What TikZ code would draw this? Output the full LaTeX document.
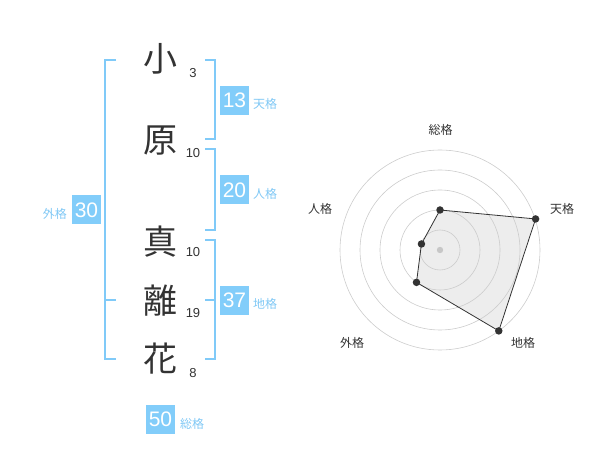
\documentclass[tikz,border=0pt]{standalone}
\usepackage{fontspec}
\setmainfont{Liberation Sans}
\newfontfamily\jpfont{Noto Sans CJK JP}
\definecolor{brk}{HTML}{80CAF8}
\definecolor{boxc}{HTML}{82CDFA}
\definecolor{lbl}{HTML}{80C8F5}
\definecolor{ink}{HTML}{333333}
\begin{document}
\begin{tikzpicture}[x=1pt,y=-1pt,
  kanji/.style={font=\jpfont\fontsize{34}{34}\selectfont, text=ink, inner sep=0pt},
  strokes/.style={font=\fontsize{13}{13}\selectfont, text=ink, inner sep=0pt},
  numbox/.style={fill=boxc, text=white, minimum width=29pt, minimum height=29pt, inner sep=0pt, font=\fontsize{21}{21}\selectfont},
  kaku/.style={font=\jpfont\fontsize{12}{12}\selectfont, text=lbl, inner sep=0pt},
  brack/.style={draw=brk, line width=2pt},
  ring/.style={draw=black!20, line width=0.6pt},
  axlbl/.style={font=\jpfont\fontsize{12}{12}\selectfont, text=ink, inner sep=0pt},
  pt/.style={circle, fill=ink, inner sep=0pt, minimum size=7.5pt}
]
\useasboundingbox (0,0) rectangle (600,470);
% kanji
\node[kanji] (k1) at (160,59) {小};
\node[kanji] (k2) at (160,141) {原};
\node[kanji] (k3) at (160,242) {真};
\node[kanji] (k4) at (160,301) {離};
\node[kanji] (k5) at (160,359) {花};
\node[strokes] (s1) at (193,73) {3};
\node[strokes] (s2) at (193,153) {10};
\node[strokes] (s3) at (193,252) {10};
\node[strokes] (s4) at (193,313) {19};
\node[strokes] (s5) at (193,373) {8};
% brackets
\coordinate (gt) at (105,60);
\coordinate (gb) at (105,359.5);
\draw[brack] (116,60) -- (gt) -- (gb) -- (116,359.5);
\draw[brack] (105,300) -- (116,300);
\draw[brack] (205,60) -- (214.5,60) -- (214.5,139.5) -- (205,139.5);
\draw[brack] (205,149.5) -- (214.5,149.5) -- (214.5,230) -- (205,230);
\draw[brack] (205,240) -- (214.5,240) -- (214.5,359.5) -- (205,359.5);
\draw[brack] (205,300) -- (214.5,300);
% boxes
\node[numbox] (b13) at (234.5,100.5) {13};
\node[numbox] (b20) at (234.5,190) {20};
\node[numbox] (b37) at (234.5,300.5) {37};
\node[numbox] (b30) at (86.5,210) {30};
\node[numbox] (b50) at (160.5,419.5) {50};
\node[kaku, anchor=west] (l13) at (253,104) {天格};
\node[kaku, anchor=west] (l20) at (253,194) {人格};
\node[kaku, anchor=west] (l37) at (253,304) {地格};
\node[kaku, anchor=east] (l30) at (67,213.5) {外格};
\node[kaku, anchor=west] (l50) at (180,423.5) {総格};
% radar
\coordinate (c) at (440,250);
\path (c) ++(-90:40) coordinate (p1)
      (c) ++(-18:100.5) coordinate (p2)
      (c) ++(54:100) coordinate (p3)
      (c) ++(126:40) coordinate (p4)
      (c) ++(-162:19.5) coordinate (p5);
\fill[black!7] (p1) -- (p2) -- (p3) -- (p4) -- (p5) -- cycle;
\foreach \r in {20,40,60,80,100} \draw[ring] (c) circle (\r);
\fill[black!22] (c) circle (3.2);
\draw[draw=ink, line width=0.8pt] (p1) -- (p2) -- (p3) -- (p4) -- (p5) -- cycle;
\foreach \p in {p1,p2,p3,p4,p5} \node[pt] at (\p) {};
\node[axlbl] (a1) at (440.5,129.5) {総格};
\node[axlbl] (a2) at (562,208.5) {天格};
\node[axlbl] (a3) at (523,342.5) {地格};
\node[axlbl] (a4) at (352,342.5) {外格};
\node[axlbl] (a5) at (320,208.5) {人格};
\end{tikzpicture}
\end{document}
